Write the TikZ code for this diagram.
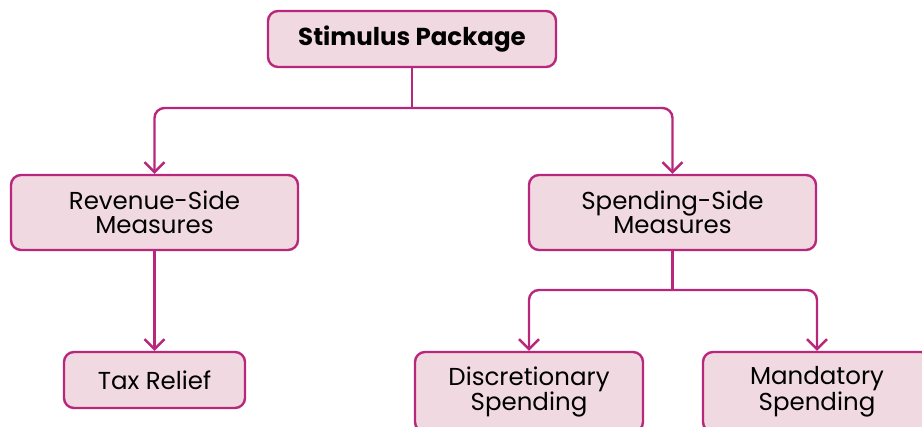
\documentclass[tikz,border=0pt]{standalone}
\usepackage{fontspec}
\setmainfont{Poppins}
\usetikzlibrary{arrows.meta}
\definecolor{edge}{HTML}{B8277C}
\definecolor{boxfill}{HTML}{F0D9E1}
\begin{document}
\begin{tikzpicture}[x=1pt,y=-1pt,
  box/.style={draw=edge,fill=boxfill,line width=2.4pt,rounded corners=10pt,
    minimum width=#1,align=center,font=\fontsize{24.5}{23.5}\selectfont,inner sep=0pt},
  box/.default={288pt},
  conn/.style={draw=edge,line width=2.4pt,rounded corners=10pt,
    {Straight Barb[length=10pt,width=20pt,line width=2.4pt]}-{Straight Barb[length=10pt,width=20pt,line width=2.4pt]}},
  arr/.style={draw=edge,line width=2.4pt,
    -{Straight Barb[length=10pt,width=20pt,line width=2.4pt]}},
  line/.style={draw=edge,line width=2.4pt}]
\useasboundingbox (0,0) rectangle (922,427);
\node[box=288pt,minimum height=56pt,font=\bfseries\fontsize{24.5}{24}\selectfont] (sp) at (412,39) {Stimulus Package};
\node[box=287pt,minimum height=75pt] (rev) at (154.5,212.5) {Revenue-Side\\Measures};
\node[box=287pt,minimum height=75pt] (spe) at (672.5,212.5) {Spending-Side\\Measures};
\node[box=181pt,minimum height=56pt] (tax) at (154.5,380) {Tax Relief};
\node[box=228pt,minimum height=80pt] (dis) at (529,392) {Discretionary\\Spending};
\node[box=228pt,minimum height=80pt] (man) at (817,392) {Mandatory\\Spending};
\coordinate (j1) at (412,108);
\coordinate (j2) at (672.5,290);
\draw[line] (sp.south) -- (j1);
\draw[conn] (rev.north) |- (j1) -| (spe.north);
\draw[arr] (rev.south) -- (tax.north);
\draw[line] (spe.south) -- (j2);
\draw[conn] (dis.north) |- (j2) -| (man.north);
\end{tikzpicture}
\end{document}
